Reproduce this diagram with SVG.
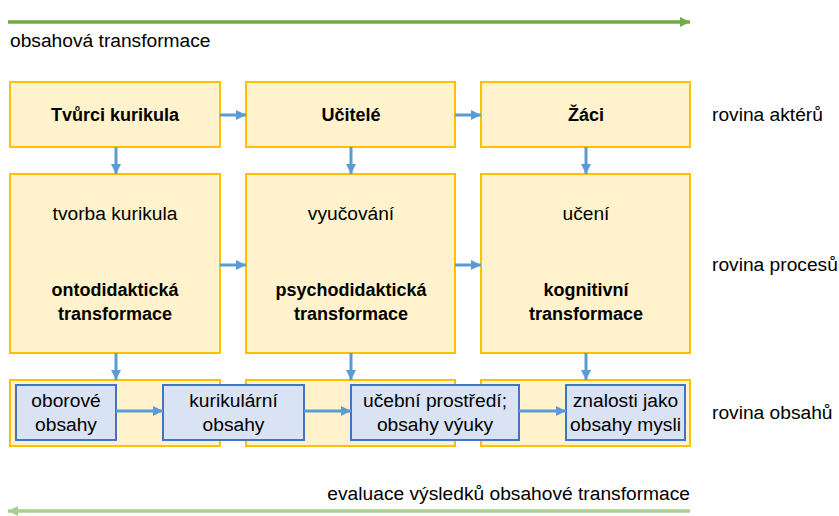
<svg xmlns="http://www.w3.org/2000/svg" width="839" height="516" viewBox="0 0 839 516">
<defs>
<style>
.t{font-family:"Liberation Sans",Arial,sans-serif;font-size:19.2px;fill:#000}
.b{font-weight:bold;font-size:18px}
.m{text-anchor:middle}
.y{fill:#fff2cc;stroke:#ffc000;stroke-width:2}
.bl{fill:#dae3f3;stroke:#4472c4;stroke-width:2}
.c{stroke:#5b9bd5;stroke-width:3;fill:none}
</style>
<marker id="ab" markerUnits="userSpaceOnUse" markerWidth="12" markerHeight="12" refX="10" refY="6" orient="auto"><path d="M0,1 L10,6 L0,11 Z" fill="#5b9bd5"/></marker>
<marker id="ag" markerUnits="userSpaceOnUse" markerWidth="12" markerHeight="12" refX="10" refY="6" orient="auto"><path d="M0,1 L10,6 L0,11 Z" fill="#70ad47"/></marker>
<marker id="alg" markerUnits="userSpaceOnUse" markerWidth="12" markerHeight="12" refX="10" refY="6" orient="auto"><path d="M0,1 L10,6 L0,11 Z" fill="#a9d18e"/></marker>
</defs>
<rect width="839" height="516" fill="#fff"/>

<g id="top-arrow">
<line x1="8" y1="22" x2="690" y2="22" stroke="#70ad47" stroke-width="3.5" marker-end="url(#ag)"/>
<text class="t" x="10" y="47">obsahová transformace</text>
</g>

<g id="tvurci"><rect class="y" x="10" y="82" width="210" height="65"/><text class="t b m" x="115" y="121">Tvůrci kurikula</text></g>
<g id="ucitele"><rect class="y" x="246" y="82" width="209" height="65"/><text class="t b m" x="351" y="121">Učitelé</text></g>
<g id="zaci"><rect class="y" x="481" y="82" width="209" height="65"/><text class="t b m" x="586" y="121">Žáci</text></g>

<g id="tvorba"><rect class="y" x="10" y="174" width="210" height="179"/>
<text class="t m" x="115" y="220">tvorba kurikula</text>
<text class="t b m" x="115" y="296">ontodidaktická</text>
<text class="t b m" x="115" y="320">transformace</text></g>
<g id="vyucovani"><rect class="y" x="246" y="174" width="209" height="179"/>
<text class="t m" x="351" y="220">vyučování</text>
<text class="t b m" x="351" y="296">psychodidaktická</text>
<text class="t b m" x="351" y="320">transformace</text></g>
<g id="uceni"><rect class="y" x="481" y="174" width="209" height="179"/>
<text class="t m" x="586" y="220">učení</text>
<text class="t b m" x="586" y="296">kognitivní</text>
<text class="t b m" x="586" y="320">transformace</text></g>

<g id="obsah1"><rect class="y" x="10" y="380" width="210" height="66"/></g>
<g id="obsah2"><rect class="y" x="246" y="380" width="209" height="66"/></g>
<g id="obsah3"><rect class="y" x="481" y="380" width="209" height="66"/></g>

<g id="oborove"><rect class="bl" x="16" y="385" width="100" height="55"/>
<text class="t m" x="66" y="407">oborové</text><text class="t m" x="66" y="431">obsahy</text></g>
<g id="kurikularni"><rect class="bl" x="163" y="385" width="141" height="55"/>
<text class="t m" x="233.5" y="407">kurikulární</text><text class="t m" x="233.5" y="431">obsahy</text></g>
<g id="ucebni"><rect class="bl" x="351" y="385" width="168" height="55"/>
<text class="t m" x="435" y="407">učební prostředí;</text><text class="t m" x="435" y="431">obsahy výuky</text></g>
<g id="znalosti"><rect class="bl" x="566" y="385" width="119" height="55"/>
<text class="t m" x="625.5" y="407">znalosti jako</text><text class="t m" x="625.5" y="431">obsahy mysli</text></g>

<g id="labels">
<text class="t" x="712" y="121">rovina aktérů</text>
<text class="t" x="712" y="271">rovina procesů</text>
<text class="t" x="712" y="419">rovina obsahů</text>
</g>

<g id="connectors">
<line class="c" x1="220" y1="115" x2="246" y2="115" marker-end="url(#ab)"/>
<line class="c" x1="455" y1="115" x2="481" y2="115" marker-end="url(#ab)"/>
<line class="c" x1="220" y1="265" x2="246" y2="265" marker-end="url(#ab)"/>
<line class="c" x1="455" y1="265" x2="481" y2="265" marker-end="url(#ab)"/>
<line class="c" x1="116" y1="147" x2="116" y2="174" marker-end="url(#ab)"/>
<line class="c" x1="351" y1="147" x2="351" y2="174" marker-end="url(#ab)"/>
<line class="c" x1="586" y1="147" x2="586" y2="174" marker-end="url(#ab)"/>
<line class="c" x1="116" y1="353" x2="116" y2="380" marker-end="url(#ab)"/>
<line class="c" x1="351" y1="353" x2="351" y2="380" marker-end="url(#ab)"/>
<line class="c" x1="586" y1="353" x2="586" y2="380" marker-end="url(#ab)"/>
<line class="c" x1="116" y1="411" x2="163" y2="411" marker-end="url(#ab)"/>
<line class="c" x1="304" y1="411" x2="351" y2="411" marker-end="url(#ab)"/>
<line class="c" x1="519" y1="411" x2="566" y2="411" marker-end="url(#ab)"/>
</g>

<g id="bottom-arrow">
<text class="t" x="690" y="500" text-anchor="end">evaluace výsledků obsahové transformace</text>
<line x1="690" y1="511" x2="8" y2="511" stroke="#a9d18e" stroke-width="3.5" marker-end="url(#alg)"/>
</g>
</svg>
